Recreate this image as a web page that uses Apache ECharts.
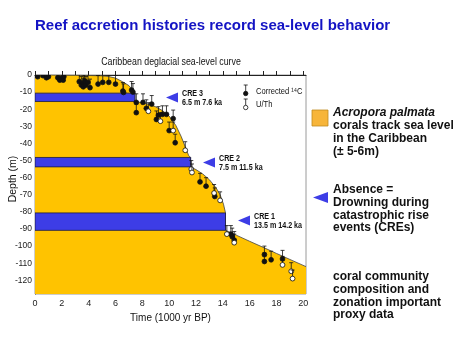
<!DOCTYPE html>
<html><head><meta charset="utf-8">
<script src="https://cdn.jsdelivr.net/npm/echarts@6/dist/echarts.min.js"></script>
<style>html,body{margin:0;padding:0;background:#fff}#c{width:474px;height:355px}</style>
</head><body><div id="c"></div>
<script>
// ---- data ----
const xLabelValues = [0, 2, 4, 6, 8, 10, 12, 14, 16, 18, 20];
const xTickValues = [0,1,2,3,4,5,6,7,8,9,10,11,12,13,14,15,16,17,18,19,20];
const yLabelValues = [0, -10, -20, -30, -40, -50, -60, -70, -80, -90, -100, -110, -120];

// sea-level curve (time ka, depth m)
const seaLevelCurve = [
  [0,0],[1,0],[2,-0.1],[3,-0.2],[4,-0.3],[5,-0.5],[5.5,-0.9],[6,-1.8],[6.5,-3.8],[7,-6.2],[7.45,-10.6],
  [7.45,-15.5],[8,-16.2],[8.5,-17.2],[9,-18.6],[9.5,-20.8],[10,-24],[10.5,-29.5],[10.9,-36],[11.2,-42],[11.45,-47],[11.6,-48.2],
  [11.6,-53.7],[12,-55.3],[12.5,-57.8],[13,-61.2],[13.5,-66],[13.8,-70],[14.05,-75.5],[14.2,-80.6],
  [14.2,-90.8],[15,-93.6],[16,-97.2],[17,-100.7],[18,-104.3],[19,-107.8],[20.2,-112]
];

// catastrophic rise events (drowned bands)
const creNames = ['CRE 3', 'CRE 2', 'CRE 1'];
const creInfo = ['6.5 m 7.6 ka', '7.5 m 11.5 ka', '13.5 m 14.2 ka'];
const creTop = [-10.6, -48.2, -80.6];
const creBottom = [-15.5, -53.7, -90.8];
const creEnd = [7.45, 11.6, 14.2];

// Corrected 14C samples: [time ka, depth m, error-bar length m]
const c14Points = [
  [0.0,0,5],[0.2,-1,5],[0.6,-0.4,5],[0.85,-1.6,5],[1.0,-1,5],[1.7,-1.6,5],[1.85,-3,5],[1.95,-2,5],[2.1,-3,5],[2.15,-1,5],
  [3.3,-3.9,5],[3.45,-5.9,5],[3.6,-4.9,5],[3.6,-6.9,5],[3.7,-3.5,5],[3.8,-5.9,5],[3.95,-4.3,5],[4.1,-7.4,5],
  [4.7,-5.3,5],[5.05,-4.3,5],[5.5,-4.3,5],[6.0,-5.3,5],[6.55,-9.4,5],[6.6,-10.2,5],[7.2,-8.8,5],[7.3,-10,5],
  [7.55,-16,5],[7.55,-22,5],[8.05,-16,5],[8.3,-19.5,5],[8.7,-17,5],[9.05,-26,5],[9.2,-23.5,5],[9.5,-23,5],[9.8,-23,5],
  [10.3,-25.5,5],[10.0,-32.5,5],[10.45,-39.6,5],
  [12.3,-62.5,5],[12.75,-65,5],[13.4,-71,5],[14.6,-93,5],[14.7,-94.5,5],[14.85,-96.5,5],
  [17.1,-105,5],[17.1,-109,5],[17.6,-108,5],[18.45,-107.5,5]
];
// U/Th samples: [time ka, depth m, error-bar length m]
const uthPoints = [
  [8.45,-21.2,5],[9.35,-27,5],[10.3,-32.5,5],[11.2,-44,5],[11.65,-55,5],[11.7,-57,5],
  [13.35,-69,5],[13.8,-73.3,5],[14.3,-93,5],[14.85,-98,5],[18.45,-111,5],[19.1,-114.7,5],[19.2,-119,5]
];

// ---- styles ----
const ARIAL = "'Liberation Sans',Arial,sans-serif";
const YELLOW = '#FFC300';
const BLUE = '#3D3DE6';

function errRender(open) {
  return function (params, api) {
    const t = api.value(0), d = api.value(1), e = api.value(2);
    const p = api.coord([t, d]);
    const top = api.coord([t, d + e]);
    return {
      type: 'group',
      children: [
        { type: 'line', shape: { x1: p[0], y1: p[1], x2: top[0], y2: top[1] }, style: { stroke: '#111', lineWidth: 0.8 } },
        { type: 'line', shape: { x1: top[0] - 2, y1: top[1], x2: top[0] + 2, y2: top[1] }, style: { stroke: '#111', lineWidth: 0.8 } },
        { type: 'circle', shape: { cx: p[0], cy: p[1], r: 2.4 }, style: { fill: open ? '#fff' : '#111', stroke: '#111', lineWidth: 0.8 } }
      ]
    };
  };
}

function bandRender(params, api) {
  const i = params.dataIndex;
  const a = api.coord([0, creTop[i]]);
  const b = api.coord([creEnd[i], creBottom[i]]);
  return {
    type: 'rect',
    shape: { x: a[0], y: a[1], width: b[0] - a[0], height: b[1] - a[1] },
    style: { fill: BLUE, stroke: '#1a1a40', lineWidth: 0.8 }
  };
}

const graphics = [];
function txt(x, y, text, font, fill, align, sx, rot) {
  graphics.push({ type: 'text', x: x, y: y, scaleX: sx || 1, rotation: rot || 0, style: { x: 0, y: 0, text: text, font: font, fill: fill || '#111', textAlign: align || 'left', textVerticalAlign: 'middle' } });
}
function tri(tipX, tipY, w, h) {
  graphics.push({ type: 'polygon', shape: { points: [[tipX, tipY], [tipX + w, tipY - h / 2], [tipX + w, tipY + h / 2]] }, style: { fill: BLUE } });
}
const N = 0.84; // horizontal squeeze to imitate the narrow face

// titles
txt(35, 26, 'Reef accretion histories record sea-level behavior', 'bold 15px ' + ARIAL, '#1414C4');
txt(171, 62, 'Caribbean deglacial sea-level curve', '10.5px ' + ARIAL, '#111', 'center', N);
txt(50, 281, 'After Blanchon and Shaw, 1995', 'italic 10px ' + ARIAL, '#2a2a2a', 'left', N);
txt(13, 179, 'Depth (m)', '10.5px ' + ARIAL, '#111', 'center', 1, Math.PI / 2);

// CRE annotations
const creTip = [[166, 97.5], [203, 162.5], [238, 220.5]];
for (let i = 0; i < 3; i++) {
  tri(creTip[i][0], creTip[i][1], 12, 10);
  txt(creTip[i][0] + 16, creTip[i][1] - 3.5, creNames[i], 'bold 8.5px ' + ARIAL, '#111', 'left', N);
  txt(creTip[i][0] + 16, creTip[i][1] + 5, creInfo[i], 'bold 8.5px ' + ARIAL, '#111', 'left', N);
}

// legend
graphics.push({ type: 'line', shape: { x1: 245.7, y1: 85, x2: 245.7, y2: 92 }, style: { stroke: '#111', lineWidth: 0.8 } });
graphics.push({ type: 'line', shape: { x1: 243.7, y1: 85, x2: 247.7, y2: 85 }, style: { stroke: '#111', lineWidth: 0.8 } });
graphics.push({ type: 'circle', shape: { cx: 245.7, cy: 93.5, r: 2.2 }, style: { fill: '#111', stroke: '#111', lineWidth: 0.8 } });
graphics.push({ type: 'line', shape: { x1: 245.7, y1: 99, x2: 245.7, y2: 105.5 }, style: { stroke: '#111', lineWidth: 0.8 } });
graphics.push({ type: 'line', shape: { x1: 243.7, y1: 99, x2: 247.7, y2: 99 }, style: { stroke: '#111', lineWidth: 0.8 } });
graphics.push({ type: 'circle', shape: { cx: 245.7, cy: 107.5, r: 2.2 }, style: { fill: '#fff', stroke: '#111', lineWidth: 0.8 } });
txt(256, 91.5, 'Corrected \u00b9\u2074C', '9px ' + ARIAL, '#111', 'left', N);
txt(256, 105, 'U/Th', '9px ' + ARIAL, '#111', 'left', N);

// right-hand notes
graphics.push({ type: 'rect', shape: { x: 312, y: 110, width: 16, height: 16 }, style: { fill: '#F7B53A', stroke: '#C08A20', lineWidth: 0.8 } });
const RB = 'bold 12px ' + ARIAL;
txt(333, 113, 'Acropora palmata', 'italic bold 12px ' + ARIAL);
txt(333, 126, 'corals track sea level', RB);
txt(333, 139, 'in the Caribbean', RB);
txt(333, 152, '(\u00b1 5-6m)', RB);
tri(313, 197.5, 15, 11);
txt(333, 190, 'Absence =', RB);
txt(333, 203, 'Drowning during', RB);
txt(333, 215.5, 'catastrophic rise', RB);
txt(333, 228, 'events (CREs)', RB);
txt(333, 277, 'coral community', RB);
txt(333, 290, 'composition and', RB);
txt(333, 302.5, 'zonation important', RB);
txt(333, 315, 'proxy data', RB);

const chart = echarts.init(document.getElementById('c'), null, { renderer: 'canvas' });
chart.setOption({
  animation: false,
  backgroundColor: '#fff',
  grid: { left: 35, top: 75, width: 271, height: 219, containLabel: false, outerBoundsMode: 'none',
          show: true, borderColor: '#9a9a9a', borderWidth: 1, backgroundColor: 'transparent' },
  xAxis: {
    type: 'value', min: 0, max: 20.2,
    name: 'Time (1000 yr BP)', nameLocation: 'middle', nameGap: 18,
    nameTextStyle: { fontFamily: ARIAL, fontSize: 10, color: '#111' },
    axisLine: { show: true, lineStyle: { color: '#222', width: 1 } },
    axisTick: { show: true, inside: true, length: 4, lineStyle: { color: '#222' }, customValues: xTickValues },
    axisLabel: { fontFamily: ARIAL, fontSize: 9, color: '#222', margin: 5, customValues: xLabelValues },
    splitLine: { show: false }
  },
  yAxis: {
    type: 'value', min: -128, max: 0,
    axisLine: { show: true, lineStyle: { color: '#222', width: 1 } },
    axisTick: { show: false },
    axisLabel: { fontFamily: ARIAL, fontSize: 8.5, color: '#222', margin: 3, customValues: yLabelValues },
    splitLine: { show: false }
  },
  series: [
    {
      type: 'line', data: seaLevelCurve, symbol: 'none', smooth: false, z: 1,
      lineStyle: { color: '#444', width: 0.8 },
      areaStyle: { color: YELLOW, opacity: 1, origin: 'start' },
      clip: true
    },
    {
      type: 'custom', data: creNames.map((n, i) => [creEnd[i], creTop[i]]), renderItem: bandRender, z: 2, clip: true
    },
    { type: 'custom', name: 'Corrected 14C', data: c14Points, renderItem: errRender(false), z: 3, clip: true },
    { type: 'custom', name: 'U/Th', data: uthPoints, renderItem: errRender(true), z: 4, clip: true }
  ],
  graphic: graphics
});
</script>
</body></html>
